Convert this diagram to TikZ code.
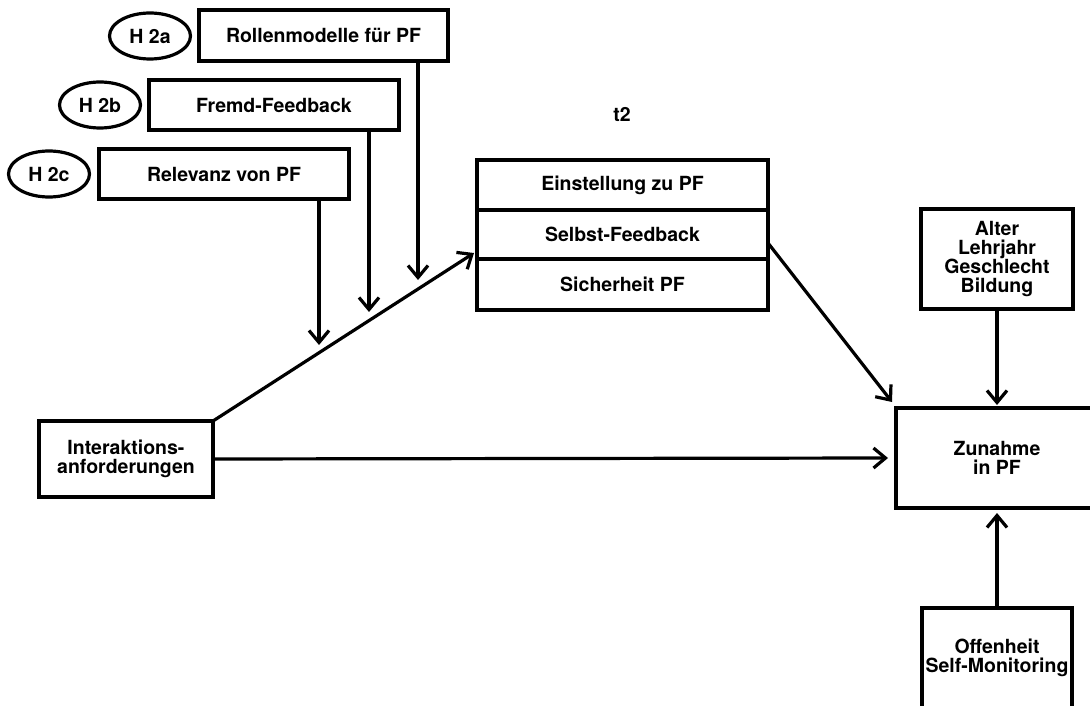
\documentclass[tikz,border=0pt]{standalone}
\usepackage{fontspec}
\setmainfont{TeX Gyre Heros}
\usetikzlibrary{arrows.meta,calc,shapes.geometric}

\begin{document}
\begin{tikzpicture}[x=1pt,y=-1pt,
  lbl/.style={font=\fontsize{19.5}{19}\selectfont\bfseries, align=center},
  box/.style={lbl, draw, line width=3.2pt, inner sep=0pt, outer sep=0pt},
  hyp/.style={lbl, draw, ellipse, line width=3.2pt, inner sep=0pt, outer sep=0pt,
              minimum width=81pt, minimum height=46pt},
  arr/.style={line width=3.2pt, -{Straight Barb[length=12pt,width=20pt]}}
]
\useasboundingbox (0,0) rectangle (1090,706);
\clip (0,0) rectangle (1090,706);
\fill[white] (0,0) rectangle (1090,706);

% moderators with their hypotheses
\node[box, minimum width=249pt, minimum height=51pt] (rol) at (323.5,35.5) {Rollenmodelle für PF};
\node[box, minimum width=250pt, minimum height=50pt] (fre) at (274,105) {Fremd-Feedback};
\node[box, minimum width=250pt, minimum height=50pt] (rel) at (224,174) {Relevanz von PF};
\node[hyp] (h2a) at (150,36) {H 2a};
\node[hyp] (h2b) at (100,105) {H 2b};
\node[hyp] (h2c) at (49,174) {H 2c};

% mediators at t2
\node[lbl] (t2) at (622,114) {t2};
\node[box, minimum width=291pt, minimum height=50pt] (e1) at (622.5,185) {Einstellung zu PF};
\node[box, minimum width=291pt, minimum height=49pt, anchor=north] (e2) at (e1.south) {Selbst-Feedback};
\node[box, minimum width=291pt, minimum height=51pt, anchor=north] (e3) at (e2.south) {Sicherheit PF};

% predictor, outcome and controls
\node[box, minimum width=174pt, minimum height=76pt] (inter) at (126,459) {Interaktions-\\anforderungen};
\node[box, minimum width=202pt, minimum height=100pt] (zun) at (997,458) {Zunahme\\in PF};
\node[box, minimum width=152pt, minimum height=100pt] (alt) at (997,259) {Alter\\Lehrjahr\\Geschlecht\\Bildung};
\node[box, minimum width=150pt, minimum height=100pt] (off) at (997,658) {Offenheit\\Self-Monitoring};

% end points of the arrows
\coordinate (tipA) at (474,253);
\coordinate (ta) at (418,280);
\coordinate (tb) at (369,312);
\coordinate (tc) at (319,345);
\coordinate (tz) at (892,402);

% connectors
\draw[arr] (inter.north east) -- (tipA);
\draw[arr] ($(rol.south east)+(-30,0)$) -- (ta);
\draw[arr] ($(fre.south east)+(-30,0)$) -- (tb);
\draw[arr] ($(rel.south east)+(-30,0)$) -- (tc);
\draw[arr] ($(e2.south east)+(0,-16)$) -- (tz);
\draw[arr] (inter.east) -- ($(zun.west)+(-8,0)$);
\draw[arr] (alt.south) -- ($(zun.north)+(0,-3)$);
\draw[arr] (off.north) -- ($(zun.south)+(0,5)$);
\end{tikzpicture}
\end{document}
